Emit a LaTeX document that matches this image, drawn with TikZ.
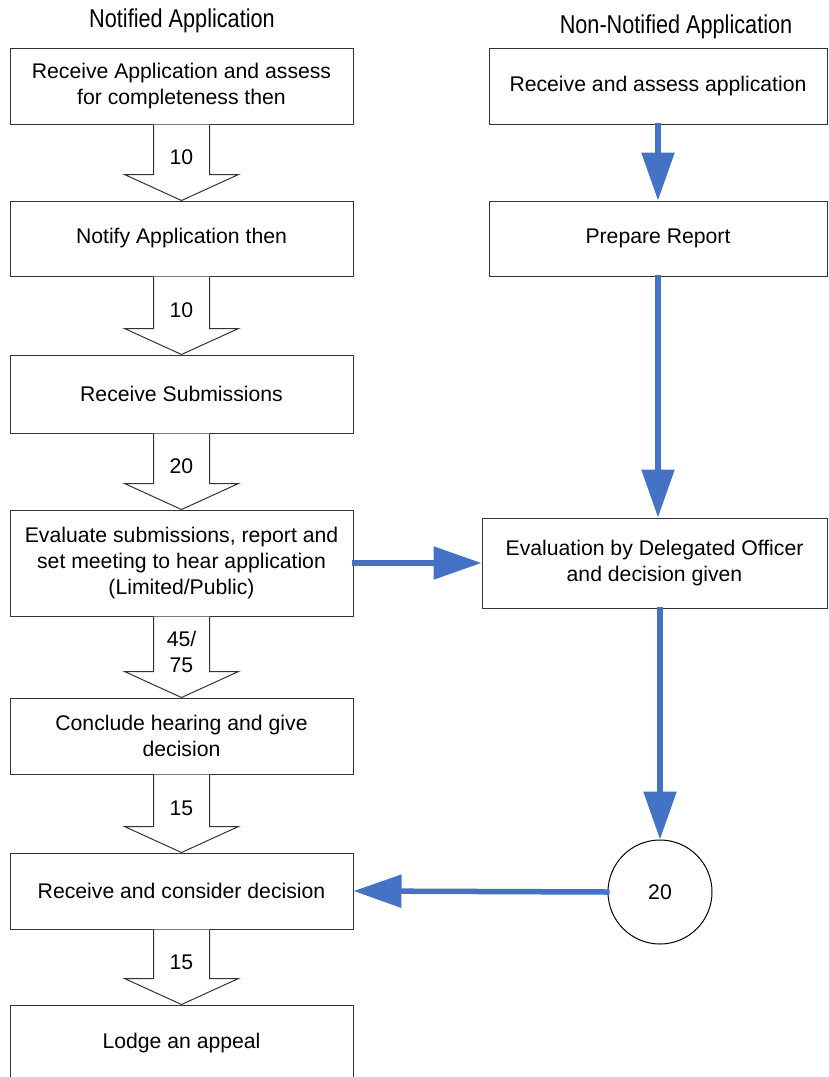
\documentclass[tikz,border=0pt]{standalone}
\usepackage{fontspec}
\setmainfont{Liberation Sans}
\newfontfamily\headfont[FakeStretch=0.84]{Liberation Sans}
\usetikzlibrary{calc,arrows.meta}
\definecolor{flowblue}{HTML}{4472C4}
\tikzset{
  box/.style={draw=black!80, line width=1pt, fill=white, align=center, inner sep=2pt,
    font=\fontsize{21.2}{26}\selectfont},
  lbox/.style={box, minimum width=343},
  rbox/.style={box, minimum width=338},
  heading/.style={font=\headfont\fontsize{25.8}{30}\selectfont},
  blockarrow/.style={draw=black!80, line width=1pt, fill=white, line join=miter},
  arrlabel/.style={font=\fontsize{21.2}{26}\selectfont, align=center},
  bluearrow/.style={draw=flowblue, line width=5.5pt,
    -{Triangle[width=32pt,length=48pt]}, shorten <=-2pt},
}
\newcommand\blockarr[3]{%
  \path[blockarrow] ($(#1.south)+(-28,0)$) -- ($(#2.north)+(-28,-26)$) -- ($(#2.north)+(-57,-26)$)
    -- (#2.north) -- ($(#2.north)+(57,-26)$) -- ($(#2.north)+(28,-26)$) -- ($(#1.south)+(28,0)$);
  \node[arrlabel] at ($($(#1.south)!0.5!(#2.north)$)+(0,-5)$) {#3};
}
\begin{document}
\begin{tikzpicture}[x=1pt,y=-1pt]
\useasboundingbox (0,0) rectangle (828,1077);
\clip (0,0) rectangle (828,1077);
\fill[white] (0,0) rectangle (828,1077);

\node[heading] (h1) at (182,21) {Notified Application};
\node[heading] (h2) at (676,27) {Non-Notified Application};

\node[lbox, minimum height=76] (b1) at (181.5,86) {Receive Application and assess\\for completeness then};
\node[lbox, minimum height=75] (b2) at (181.5,238.5) {Notify Application then};
\node[lbox, minimum height=78] (b3) at (181.5,394) {Receive Submissions};
\node[lbox, minimum height=106] (b4) at (181.5,563) {Evaluate submissions, report and\\set meeting to hear application\\(Limited/Public)};
\node[lbox, minimum height=76] (b5) at (181.5,736) {Conclude hearing and give\\decision};
\node[lbox, minimum height=76] (b6) at (181.5,891) {Receive and consider decision};
\node[lbox, minimum height=76, text depth=0pt] (b7) at (181.5,1043) {};
\node[arrlabel] (b7t) at (b7.center) {Lodge an appeal};

\blockarr{b1}{b2}{10}
\blockarr{b2}{b3}{10}
\blockarr{b3}{b4}{20}
\blockarr{b4}{b5}{45/\\75}
\blockarr{b5}{b6}{15}
\blockarr{b6}{b7}{15}

\node[rbox, minimum height=76] (r1) at (658,86) {Receive and assess application};
\node[rbox, minimum height=75] (r2) at (658,238.5) {Prepare Report};
\node[box, minimum width=345, minimum height=90] (r3) at (654.5,563) {Evaluation by Delegated Officer\\and decision given};
\node[draw=black, line width=1pt, circle, minimum size=104, fill=white,
  font=\fontsize{21.2}{26}\selectfont] (c1) at (660,892) {20};

\draw[bluearrow] (r1.south) -- (r2.north);
\draw[bluearrow] (r2.south) -- (r2.south |- r3.north);
\draw[bluearrow] (b4.east) -- (r3.west);
\draw[bluearrow] (c1.north |- r3.south) -- (c1.north);
\draw[bluearrow] (c1.west) -- (b6.east);
\end{tikzpicture}
\end{document}
